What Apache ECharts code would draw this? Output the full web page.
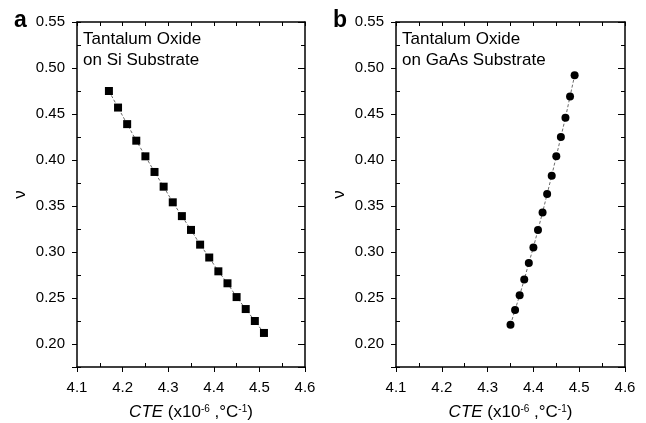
<!DOCTYPE html>
<html>
<head>
<meta charset="utf-8">
<script src="https://cdn.jsdelivr.net/npm/echarts@6/dist/echarts.min.js"></script>
<style>html,body{margin:0;padding:0;background:#fff}#c{width:646px;height:423px}</style>
</head>
<body>
<div id="c"></div>
<script>
// Panel a: Tantalum Oxide on Si substrate
const siCTE = [4.17, 4.19, 4.21, 4.23, 4.25, 4.27, 4.29, 4.31, 4.33, 4.35, 4.37, 4.39, 4.41, 4.43, 4.45, 4.47, 4.49, 4.51];
const siNu  = [0.475, 0.457, 0.439, 0.421, 0.404, 0.387, 0.371, 0.354, 0.339, 0.324, 0.308, 0.294, 0.279, 0.266, 0.251, 0.238, 0.225, 0.212];
// Panel b: Tantalum Oxide on GaAs substrate
const gaasCTE = [4.35, 4.36, 4.37, 4.38, 4.39, 4.40, 4.41, 4.42, 4.43, 4.44, 4.45, 4.46, 4.47, 4.48, 4.49];
const gaasNu  = [0.221, 0.237, 0.253, 0.270, 0.288, 0.305, 0.324, 0.343, 0.363, 0.383, 0.404, 0.425, 0.446, 0.469, 0.492];

const panelLetters = ['a', 'b'];
const panelLabels = ['Tantalum Oxide\non Si Substrate', 'Tantalum Oxide\non GaAs Substrate'];
const xMin = 4.1, xMax = 4.6, xStep = 0.1;
const yMin = 0.175, yMax = 0.55, yStep = 0.05;

const FONT = "'Liberation Sans', Arial, sans-serif";
const BLACK = '#000';

const grids = [
  { left: 77, right: 341, top: 22, bottom: 56, outerBoundsMode: 'none', containLabel: false },
  { left: 396, right: 21, top: 22, bottom: 56, outerBoundsMode: 'none', containLabel: false }
];

const xAxes = [], yAxes = [], series = [], titles = [];
const lineStyle = { color: BLACK, width: 1.5 };

function isMajorY(v) {
  return Math.abs(v / yStep - Math.round(v / yStep)) < 1e-6;
}

grids.forEach((g, gi) => {
  const xb = xAxes.length;
  // bottom main axis
  xAxes.push({
    gridIndex: gi, type: 'value', min: xMin, max: xMax, interval: xStep, position: 'bottom',
    axisLine: { show: true, onZero: false, lineStyle },
    axisTick: { show: true, inside: false, length: 5, lineStyle: { color: BLACK, width: 1 } },
    axisLabel: { show: true, fontSize: 15, color: BLACK, fontFamily: FONT, margin: 13,
      formatter: v => v.toFixed(1) },
    splitLine: { show: false },
    name: '{i|CTE} (x10{s|-6} ,°C{s|-1})',
    nameLocation: 'middle', nameGap: 37,
    nameTextStyle: { fontSize: 17, color: BLACK, fontFamily: FONT,
      rich: {
        i: { fontStyle: 'italic', fontSize: 17, fontFamily: FONT, color: BLACK },
        s: { fontSize: 10, fontFamily: FONT, color: BLACK, verticalAlign: 'top', lineHeight: 10 }
      } }
  });
  // bottom minor inside ticks
  xAxes.push({
    gridIndex: gi, type: 'value', min: xMin, max: xMax, interval: xStep, position: 'bottom',
    axisLine: { show: false, onZero: false },
    axisTick: { show: false, inside: true },
    minorTick: { show: true, splitNumber: 2, length: 4, lineStyle: { color: BLACK, width: 1 } },
    axisLabel: { show: false }, splitLine: { show: false }
  });
  // top axis (inside ticks)
  xAxes.push({
    gridIndex: gi, type: 'value', min: xMin, max: xMax, interval: xStep / 2, position: 'top',
    axisLine: { show: true, onZero: false, lineStyle },
    axisTick: { show: true, inside: true, length: 4, lineStyle: { color: BLACK, width: 1 } },
    axisLabel: { show: false }, splitLine: { show: false }
  });

  const yb = yAxes.length;
  // left main axis
  yAxes.push({
    gridIndex: gi, type: 'value', min: yMin, max: yMax, splitNumber: 8, position: 'left',
    axisLine: { show: true, onZero: false, lineStyle },
    axisTick: { show: true, inside: false, length: 5, lineStyle: { color: BLACK, width: 1 } },
    axisLabel: { show: true, fontSize: 15, color: BLACK, fontFamily: FONT, margin: 12,
      formatter: v => isMajorY(v) ? v.toFixed(2) : '' },
    splitLine: { show: false },
    name: 'ν', nameLocation: 'middle', nameGap: 48,
    nameTextStyle: { fontSize: 17, color: BLACK, fontFamily: FONT }
  });
  // left minor inside ticks (from min, every 0.05 -> 0.175, 0.225, ...)
  yAxes.push({
    gridIndex: gi, type: 'value', min: yMin, max: yMax, interval: yStep, position: 'left',
    axisLine: { show: false, onZero: false },
    axisTick: { show: true, inside: true, length: 4, lineStyle: { color: BLACK, width: 1 } },
    axisLabel: { show: false }, splitLine: { show: false }
  });
  // right major inside ticks
  yAxes.push({
    gridIndex: gi, type: 'value', min: yMin, max: yMax, splitNumber: 8, position: 'right',
    axisLine: { show: true, onZero: false, lineStyle },
    axisTick: { show: true, inside: true, length: 7, lineStyle: { color: BLACK, width: 1 } },
    axisLabel: { show: false }, splitLine: { show: false }
  });
  // right minor inside ticks
  yAxes.push({
    gridIndex: gi, type: 'value', min: yMin, max: yMax, interval: yStep, position: 'right',
    axisLine: { show: false, onZero: false },
    axisTick: { show: true, inside: true, length: 4, lineStyle: { color: BLACK, width: 1 } },
    axisLabel: { show: false }, splitLine: { show: false }
  });

  const xs = gi === 0 ? siCTE : gaasCTE;
  const ys = gi === 0 ? siNu : gaasNu;
  series.push({
    type: 'line', xAxisIndex: xb, yAxisIndex: yb,
    data: xs.map((x, i) => [x, ys[i]]),
    symbol: gi === 0 ? 'rect' : 'circle', symbolSize: 8,
    showAllSymbol: true,
    itemStyle: { color: BLACK },
    lineStyle: { color: '#444', width: 0.8, type: [3, 2] },
    animation: false
  });

  titles.push({
    text: panelLetters[gi], left: g.left - 63, top: 9, padding: 0,
    textStyle: { fontSize: 23, fontWeight: 'bold', color: BLACK, fontFamily: FONT }
  });
  titles.push({
    text: panelLabels[gi], left: g.left + 6, top: 29, padding: 0,
    textStyle: { fontSize: 17, fontWeight: 'normal', color: BLACK, fontFamily: FONT, lineHeight: 21 }
  });
});

const chart = echarts.init(document.getElementById('c'), null, { renderer: 'canvas' });
chart.setOption({
  animation: false,
  backgroundColor: '#fff',
  title: titles,
  grid: grids,
  xAxis: xAxes,
  yAxis: yAxes,
  series
});
</script>
</body>
</html>
